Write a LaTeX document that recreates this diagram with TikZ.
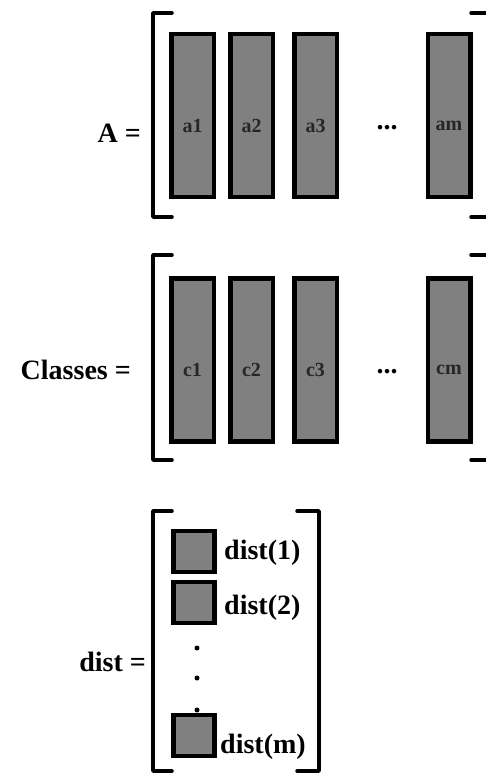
\documentclass[tikz,border=0pt]{standalone}
\usepackage{fontspec}
\setmainfont{Liberation Serif}
\usetikzlibrary{positioning}

\tikzset{
  vec/.style={draw=black, line width=4.5pt, fill=black!50, inner sep=0pt,
              minimum width=42.5pt, minimum height=163pt},
  cell/.style={draw=black, line width=4.5pt, fill=black!50, inner sep=0pt,
               minimum size=41pt},
  veclbl/.style={font=\bfseries\fontsize{20}{20}\selectfont, text=black!85},
  lbl/.style={font=\bfseries\fontsize{28}{30}\selectfont, inner sep=0pt},
  brack/.style={line width=3.5pt, line cap=round, line join=round},
  dot/.style={circle, fill=black, inner sep=0pt, minimum size=5pt}
}

\begin{document}
\begin{tikzpicture}[x=1pt,y=-1pt]
\useasboundingbox (0,0) rectangle (485,775);

% matrix A
\node[lbl, anchor=east] (Alab) at (141,133) {A =};
\draw[brack] (172,13) -- (153,13) -- (153,217) -- (172,217);
\draw[brack] (471,13) -- (489,13) -- (489,217) -- (471,217);
\node[vec] (a1) at (192.5,115.5) {};
\node[vec] (a2) at (251.5,115.5) {};
\node[vec] (a3) at (315.5,115.5) {};
\node[vec] (am) at (449,115.5) {};
\node[veclbl] at ([yshift=-10pt]a1.center) {a1};
\node[veclbl] at ([yshift=-10pt]a2.center) {a2};
\node[veclbl] at ([yshift=-10pt]a3.center) {a3};
\node[veclbl] at ([yshift=-10pt]am.center) {am};
\node[lbl] (adots) at (387,128) {...};

% matrix Classes
\node[lbl, anchor=east] (Clab) at (131,370) {Classes =};
\draw[brack] (172,255) -- (153,255) -- (153,460) -- (172,460);
\draw[brack] (471,255) -- (489,255) -- (489,460) -- (471,460);
\node[vec] (c1) at (192.5,360) {};
\node[vec] (c2) at (251.5,360) {};
\node[vec] (c3) at (315.5,360) {};
\node[vec] (cm) at (449,360) {};
\node[veclbl] at ([yshift=-10pt]c1.center) {c1};
\node[veclbl] at ([yshift=-10pt]c2.center) {c2};
\node[veclbl] at ([yshift=-10pt]c3.center) {c3};
\node[veclbl] at ([yshift=-10pt]cm.center) {cm};
\node[lbl] (cdots) at (387,372) {...};

% vector dist
\node[lbl, anchor=east] (Dlab) at (146,662) {dist =};
\draw[brack] (172,511) -- (153,511) -- (153,771) -- (172,771);
\draw[brack] (297,511) -- (319,511) -- (319,771) -- (297,771);
\node[cell] (d1) at (194,551.5) {};
\node[cell] (d2) at (194,602.5) {};
\node[cell] (dm) at (194,735.5) {};
\node[lbl, anchor=west] (t1) at (224,553) {dist(1)};
\node[lbl, anchor=west] (t2) at (224,608) {dist(2)};
\node[lbl, anchor=west] (tm) at (220,747) {dist(m)};
\node[dot] (v1) at (197,648) {};
\node[dot] (v2) at (197,678) {};
\node[dot] (v3) at (197,710) {};
\end{tikzpicture}
\end{document}
